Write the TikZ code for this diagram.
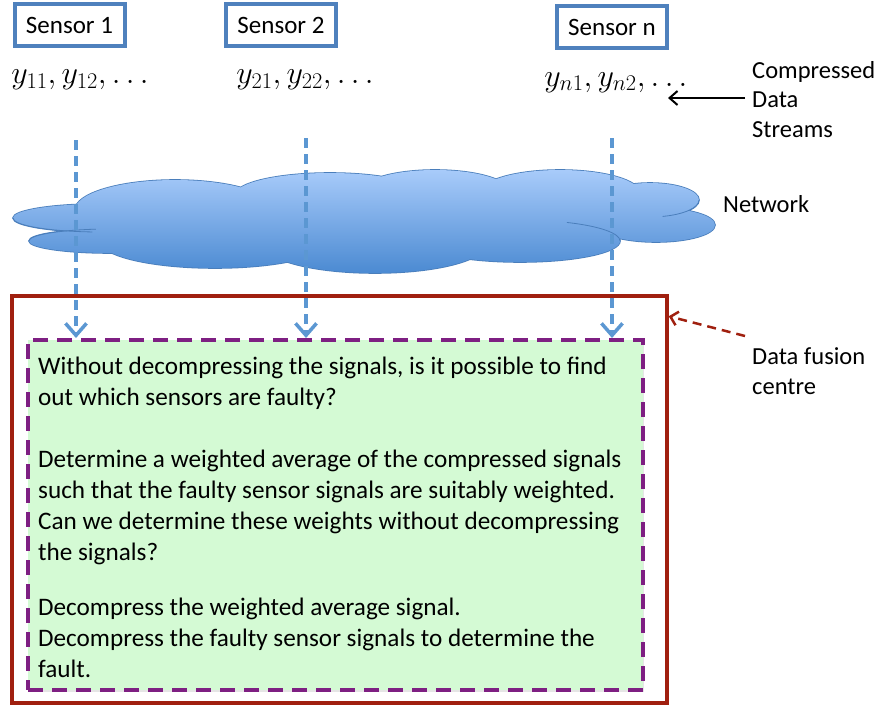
\RequirePackage{fix-cm}
\documentclass[tikz,border=0pt]{standalone}
\usepackage{fontspec}
\setmainfont{Carlito}
\usetikzlibrary{arrows.meta,shadows}

\definecolor{sensorblue}{HTML}{4F81BD}
\definecolor{linkblue}{HTML}{5B97D2}
\definecolor{cloudtop}{HTML}{A8CBFA}
\definecolor{cloudbot}{HTML}{4B8AD2}
\definecolor{cloudline}{HTML}{4A7EBB}
\definecolor{fusionred}{HTML}{A0200F}
\definecolor{taskgreen}{HTML}{D4FAD4}
\definecolor{taskpurple}{HTML}{7E1F82}

\tikzset{
  sensor/.style={draw=sensorblue, line width=4pt, fill=white, minimum width=110pt, minimum height=42pt, inner sep=0pt,
    font=\fontsize{25}{29}\selectfont, drop shadow={opacity=0.25, shadow xshift=1pt, shadow yshift=-2pt}},
  stream/.style={anchor=base, font=\fontsize{32}{38}\selectfont},
  note/.style={anchor=base west, align=left, inner sep=3pt, font=\fontsize{24.5}{29.5}\selectfont},
  link/.style={draw=linkblue, line width=3.5pt, dash pattern=on 10pt off 6pt, -{Straight Barb[length=12pt, width=21pt]}},
}

% the cloud is a union of ellipses
\def\cloudpath{(100,218) ellipse [x radius=87pt, y radius=14pt]
  (110,241) ellipse [x radius=81pt, y radius=12pt]
  (175,210) ellipse [x radius=100pt, y radius=30pt]
  (215,241) ellipse [x radius=115pt, y radius=27pt]
  (330,195) ellipse [x radius=95pt, y radius=22pt]
  (435,192) ellipse [x radius=75pt, y radius=22pt]
  (560,193) ellipse [x radius=80pt, y radius=23pt]
  (650,200) ellipse [x radius=49pt, y radius=17pt]
  (656,225) ellipse [x radius=59pt, y radius=17pt]
  (520,241) ellipse [x radius=100pt, y radius=21pt]
  (375,245) ellipse [x radius=110pt, y radius=28pt]
  (400,220) ellipse [x radius=260pt, y radius=35pt]}

\begin{document}
\begin{tikzpicture}[x=1pt, y=-1pt]
\useasboundingbox (0,0) rectangle (881,709);

% sensors
\node[sensor] (s1) at (69.5,25.5) {Sensor 1};
\node[sensor] (s2) at (281,25.5) {Sensor 2};
\node[sensor] (sn) at (612,27) {Sensor n};

\node[stream] (y1) at (80,84) {$y_{11},y_{12},\ldots$};
\node[stream] (y2) at (305,84) {$y_{21},y_{22},\ldots$};
\node[stream] (yn) at (616,86) {$y_{n1},y_{n2},\ldots$};

\node[note, inner sep=7pt] (cds) at (745,137) {Compressed\\Data\\Streams};
\node[note] (net) at (720,212) {Network};
\node[note] (dfc) at (749,394) {Data fusion\\centre};

% network
\draw[cloudline, line width=1.6pt] \cloudpath;
\shade[top color=cloudtop, bottom color=cloudbot] \cloudpath;
\draw[cloudline, line width=0.8pt] (29,241) arc[start angle=180, end angle=100, x radius=81pt, y radius=12pt];
\draw[cloudline, line width=0.8pt] (13,218) arc[start angle=180, end angle=265, x radius=87pt, y radius=14pt];
\draw[cloudline, line width=0.8pt] (620,241) arc[start angle=0, end angle=62, x radius=100pt, y radius=21pt];
\draw[cloudline, line width=0.8pt] (699,200) arc[start angle=0, end angle=-75, x radius=49pt, y radius=17pt];

% fusion centre
\node[draw=fusionred, fill=white, line width=3.5pt, minimum width=655pt, minimum height=407pt,
  drop shadow={opacity=0.25, shadow xshift=1pt, shadow yshift=-2pt}] (fc) at (339.5,499.5) {};
\node[draw=taskpurple, fill=taskgreen, line width=4pt, dash pattern=on 15pt off 9pt, minimum width=615pt, minimum height=350pt,
  drop shadow={opacity=0.2, shadow xshift=1pt, shadow yshift=-2pt}] (task) at (335.5,515) {};
\node[anchor=north west, align=left, inner sep=0pt, font=\fontsize{25.2}{31}\selectfont] (txt) at (38,356.5) {Without decompressing the signals, is it possible to find\\
out which sensors are faulty?\\[31pt]
Determine a weighted average of the compressed signals\\
such that the faulty sensor signals are suitably weighted.\\
Can we determine these weights without decompressing\\
the signals?\\[24pt]
Decompress the weighted average signal.\\
Decompress the faulty sensor signals to determine the\\
fault.};

% data streams into the centre
\coordinate (t1) at (76,140);
\coordinate (t2) at (306,138);
\coordinate (tn) at (612,138);
\draw[link] (t1) -- (t1 |- task.north);
\draw[link] (t2) -- (t2 |- task.north);
\draw[link] (tn) -- (tn |- task.north);

\coordinate (ca) at (668,98);
\draw[line width=2pt, -{Straight Barb[length=8pt, width=14pt]}] (cds.west |- ca) -- (ca);
\coordinate (fa) at (745,336);
\draw[fusionred, line width=2.5pt, dash pattern=on 9pt off 6pt, -{Straight Barb[length=7pt, width=14pt]}] (fa) -- ([yshift=-22pt]fc.north east);
\end{tikzpicture}
\end{document}
